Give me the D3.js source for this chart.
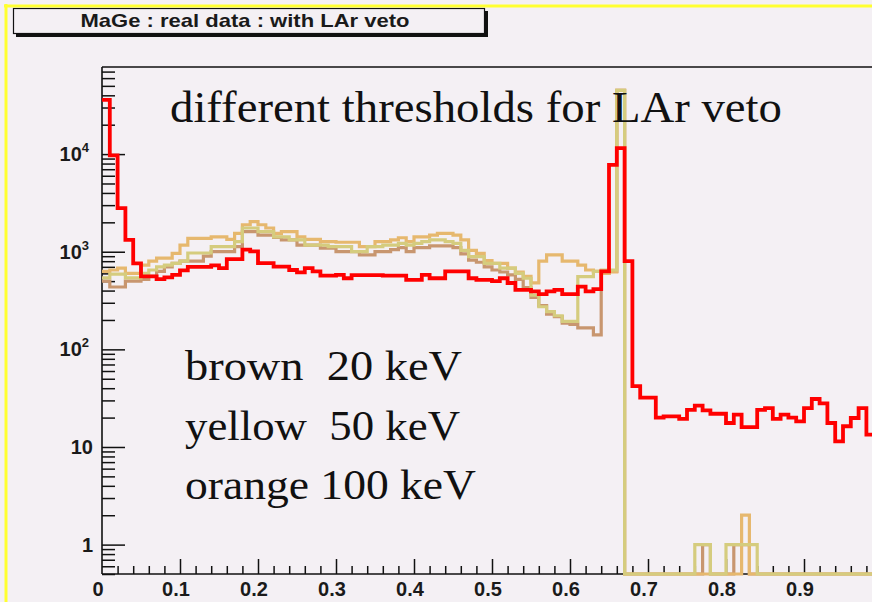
<!DOCTYPE html>
<html>
<head>
<meta charset="utf-8">
<script src="https://cdn.jsdelivr.net/npm/d3@7"></script>
<style>
  html, body { margin: 0; padding: 0; background: #f4f0f4; }
  svg { display: block; }
</style>
</head>
<body>
<svg id="chart" width="872" height="602"></svg>
<script>
// ---- histogram binning ----
const binWidth = 0.01;
const binCount = 100;

// ---- counts per bin (no veto) ----
const countsNoVeto = [
  35900, 9700, 2800, 1320, 760, 560, 560, 525, 545, 580,
  645, 700, 700, 700, 725, 680, 840, 840, 1050, 1010,
  765, 765, 705, 705, 650, 615, 680, 630, 570, 570,
  580, 535, 575, 575, 575, 575, 570, 570, 570, 515,
  515, 580, 535, 535, 630, 630, 630, 535, 515, 515,
  500, 535, 478, 407, 407, 392, 368, 392, 407, 368,
  368, 440, 392, 413, 630, 7760, 11500, 800, 42, 32,
  32, 20, 20.6, 20.6, 19.4, 24, 26.5, 23.7, 21.9, 21.9,
  17.6, 21.4, 16, 16, 24, 25, 19.4, 21.4, 20, 18.3,
  25, 31, 28, 17.6, 11.4, 16.3, 19.8, 25, 13.4, 14
];

// ---- counts per bin, LAr veto threshold 20 keV ----
const countsBrown20 = [
  500, 435, 435, 500, 500, 520, 560, 630, 700, 760,
  800, 800, 800, 900, 1000, 1000, 1000, 1130, 1610, 1610,
  1480, 1480, 1400, 1320, 1320, 1170, 1170, 1170, 1090, 1090,
  1000, 1000, 1000, 930, 930, 1000, 1000, 1050, 1100, 1000,
  1100, 1100, 1150, 1150, 1150, 1100, 950, 820, 780, 700,
  650, 620, 580, 520, 430, 340, 280, 230, 216, 185,
  180, 166, 166, 141, 600, 630, 45000, 0, 0, 0,
  0, 0, 0, 0, 0, 0, 0, 1, 0, 0,
  0, 1, 1, 0, 0, 0, 0, 0, 0, 0,
  0, 0, 0, 0, 0, 0, 0, 0, 0, 0
];

// ---- counts per bin, LAr veto threshold 50 keV ----
const countsYellow50 = [
  540, 590, 590, 540, 540, 600, 650, 700, 730, 760,
  800, 970, 970, 970, 1130, 1130, 1130, 1270, 1750, 1750,
  1610, 1610, 1420, 1420, 1320, 1320, 1170, 1170, 1170, 1130,
  1130, 1130, 1000, 1000, 1130, 1130, 1170, 1170, 1220, 1170,
  1220, 1270, 1320, 1320, 1270, 1220, 1030, 890, 890, 760,
  760, 680, 680, 600, 535, 360, 273, 244, 221, 193,
  193, 557, 557, 630, 650, 650, 45000, 0, 0, 0,
  0, 0, 0, 0, 0, 0, 1, 1, 0, 0,
  1, 1, 1, 1, 0, 0, 0, 0, 0, 0,
  0, 0, 0, 0, 0, 0, 0, 0, 0, 0
];

// ---- counts per bin, LAr veto threshold 100 keV ----
const countsOrange100 = [
  630, 650, 680, 600, 600, 730, 800, 860, 860, 960,
  1170, 1370, 1370, 1370, 1420, 1420, 1340, 1540, 1890, 2030,
  1890, 1750, 1540, 1610, 1610, 1420, 1340, 1340, 1270, 1270,
  1250, 1250, 1250, 1130, 1130, 1270, 1270, 1320, 1390, 1270,
  1420, 1420, 1480, 1540, 1540, 1480, 1320, 1030, 960, 810,
  760, 760, 680, 620, 560, 480, 800, 930, 930, 800,
  800, 730, 650, 630, 600, 620, 45000, 0, 0, 0,
  0, 0, 0, 0, 0, 0, 0, 0, 0, 0,
  0, 0, 2, 0, 0, 0, 0, 0, 0, 0,
  0, 0, 0, 0, 0, 0, 0, 0, 0, 0
];

// ---- axis ticks and labels ----
const xMajorTicks = [0.1, 0.2, 0.3, 0.4, 0.5, 0.6, 0.7, 0.8, 0.9, 1.0];
const xLabelValues = [0, 0.1, 0.2, 0.3, 0.4, 0.5, 0.6, 0.7, 0.8, 0.9];
const xTickLabels = ["0", "0.1", "0.2", "0.3", "0.4", "0.5", "0.6", "0.7", "0.8", "0.9"];
const yDecadeTicks = [1, 10, 100, 1000, 10000];
const yTickBase = ["1", "10", "10", "10", "10"];
const yTickExp = ["", "", "2", "3", "4"];

// ---- texts ----
const titleText = "MaGe : real data : with LAr veto";
const noteText = "different thresholds for LAr veto";
const legendLines = ["brown  20 keV", "yellow  50 keV", "orange 100 keV"];

const series = [
  { name: "brown 20 keV", values: countsBrown20, color: "#c8966f", width: 3.2 },
  { name: "orange 100 keV", values: countsOrange100, color: "#e6b86e", width: 3.2 },
  { name: "yellow 50 keV", values: countsYellow50, color: "#d5cc7e", width: 3.2 },
  { name: "no veto", values: countsNoVeto, color: "#ff0000", width: 3.8 }
];

// ---- layout ----
const W = 872, H = 602;
const plot = { left: 102, right: 882, top: 67, bottom: 574 };
const yMin = 0.5, yMax = 78000;

const svg = d3.select("#chart");
svg.append("rect").attr("width", W).attr("height", H).attr("fill", "#f4f0f4");

const x = d3.scaleLinear().domain([0, 1]).range([plot.left, plot.right]);
const y = d3.scaleLog().domain([yMin, yMax]).range([plot.bottom, plot.top]);

// clip region for the histograms (slightly below the axis so zero bins show)
svg.append("clipPath").attr("id", "plotClip")
  .append("rect")
  .attr("x", plot.left).attr("y", plot.top)
  .attr("width", plot.right - plot.left).attr("height", plot.bottom - plot.top + 3);

// ---- axes ----
const axisColor = "#111";

// y minor ticks 2..9 per decade, inside the frame
const yMinor = [];
for (let d = -1; d <= 4; d++) {
  for (let m = 2; m <= 9; m++) {
    const v = m * Math.pow(10, d);
    if (v >= yMin && v <= yMax) yMinor.push(v);
  }
}
const yAxisMinor = svg.append("g").attr("transform", `translate(${plot.left},0)`)
  .call(d3.axisRight(y).tickValues(yMinor).tickSize(13).tickFormat(""));
const yAxisMajor = svg.append("g").attr("transform", `translate(${plot.left},0)`)
  .call(d3.axisRight(y).tickValues(yDecadeTicks).tickSize(23).tickFormat(""));

const xMinor = d3.range(0, 1.0001, 0.02).filter(v => Math.abs(v * 10 - Math.round(v * 10)) > 1e-6);
const xAxisMinor = svg.append("g").attr("transform", `translate(0,${plot.bottom})`)
  .call(d3.axisTop(x).tickValues(xMinor).tickSize(8).tickFormat(""));
const xAxisMajor = svg.append("g").attr("transform", `translate(0,${plot.bottom})`)
  .call(d3.axisTop(x).tickValues(xMajorTicks).tickSize(15).tickFormat(""));

[yAxisMinor, yAxisMajor, xAxisMinor, xAxisMajor].forEach(g => {
  g.selectAll(".domain").remove();
  g.selectAll("line").attr("stroke", axisColor).attr("stroke-width", 1.5);
});

// axis lines and frame top
svg.append("line").attr("x1", plot.left).attr("x2", plot.left)
  .attr("y1", plot.top).attr("y2", plot.bottom)
  .attr("stroke", axisColor).attr("stroke-width", 1.6);
svg.append("line").attr("x1", plot.left).attr("x2", W)
  .attr("y1", plot.bottom).attr("y2", plot.bottom)
  .attr("stroke", axisColor).attr("stroke-width", 1.6);
svg.append("line").attr("x1", plot.left).attr("x2", W)
  .attr("y1", plot.top).attr("y2", plot.top)
  .attr("stroke", axisColor).attr("stroke-width", 1.6);

// x tick labels
svg.append("g").selectAll("text")
  .data(xLabelValues.map((v, i) => ({ v, label: xTickLabels[i] })))
  .join("text")
  .attr("x", d => x(d.v) - 4)
  .attr("y", 596)
  .attr("text-anchor", "middle")
  .attr("font-family", "Liberation Sans, Arial, sans-serif")
  .attr("font-weight", "bold")
  .attr("font-size", 20)
  .attr("fill", "#1a1a1a")
  .text(d => d.label);

// y tick labels (powers of ten with superscripts)
const yLab = svg.append("g").selectAll("text")
  .data(yDecadeTicks.map((v, i) => ({ v, base: yTickBase[i], exp: yTickExp[i] })))
  .join("text")
  .attr("x", d => d.exp ? 89 : 93)
  .attr("y", d => y(d.v) + 7)
  .attr("text-anchor", "end")
  .attr("font-family", "Liberation Sans, Arial, sans-serif")
  .attr("font-weight", "bold")
  .attr("font-size", 20)
  .attr("fill", "#1a1a1a");
yLab.append("tspan").text(d => d.base);
yLab.filter(d => d.exp).append("tspan")
  .attr("dy", -9).attr("font-size", 13).text(d => d.exp);

// ---- histograms ----
const stepLine = d3.line()
  .x(d => x(d.x))
  .y(d => y(Math.max(d.v, yMin)))
  .curve(d3.curveStepAfter);

const histG = svg.append("g").attr("clip-path", "url(#plotClip)");
series.forEach(s => {
  const pts = s.values.map((v, i) => ({ x: i * binWidth, v }));
  pts.push({ x: binCount * binWidth, v: s.values[s.values.length - 1] });
  histG.append("path")
    .datum(pts)
    .attr("d", stepLine)
    .attr("fill", "none")
    .attr("stroke", s.color)
    .attr("stroke-width", s.width)
    .attr("stroke-linejoin", "miter")
    .attr("stroke-linecap", "square");
});

// ---- annotation texts ----
svg.append("text")
  .attr("x", 170).attr("y", 122)
  .attr("font-family", "Liberation Serif, Times New Roman, serif")
  .attr("font-size", 44)
  .attr("textLength", 612)
  .attr("lengthAdjust", "spacingAndGlyphs")
  .attr("fill", "#111")
  .text(noteText);

const legendTargets = [277, 275, 291];
svg.append("g").selectAll("text")
  .data(legendLines)
  .join("text")
  .attr("x", 185)
  .attr("y", (d, i) => 380 + i * 59.5)
  .attr("font-family", "Liberation Serif, Times New Roman, serif")
  .attr("font-size", 42)
  .attr("textLength", (d, i) => legendTargets[i])
  .attr("lengthAdjust", "spacingAndGlyphs")
  .style("white-space", "pre")
  .attr("fill", "#111")
  .text(d => d);

// ---- title box with shadow ----
svg.append("rect").attr("x", 16).attr("y", 11).attr("width", 472).attr("height", 26).attr("fill", "#111");
svg.append("rect").attr("x", 13.5).attr("y", 8.5).attr("width", 471).attr("height", 25)
  .attr("fill", "#f4f0f4").attr("stroke", "#111").attr("stroke-width", 1.2);
svg.append("text")
  .attr("x", 245).attr("y", 27)
  .attr("text-anchor", "middle")
  .attr("font-family", "Liberation Sans, Arial, sans-serif")
  .attr("font-weight", "bold")
  .attr("font-size", 19)
  .attr("textLength", 329)
  .attr("lengthAdjust", "spacingAndGlyphs")
  .attr("fill", "#1a1a1a")
  .text(titleText);

// ---- yellow canvas border ----
svg.append("line").attr("x1", 4).attr("x2", W).attr("y1", 6).attr("y2", 6)
  .attr("stroke", "#ffff30").attr("stroke-width", 3);
svg.append("line").attr("x1", 6).attr("x2", 6).attr("y1", 4).attr("y2", H)
  .attr("stroke", "#ffff30").attr("stroke-width", 3);
</script>
</body>
</html>
